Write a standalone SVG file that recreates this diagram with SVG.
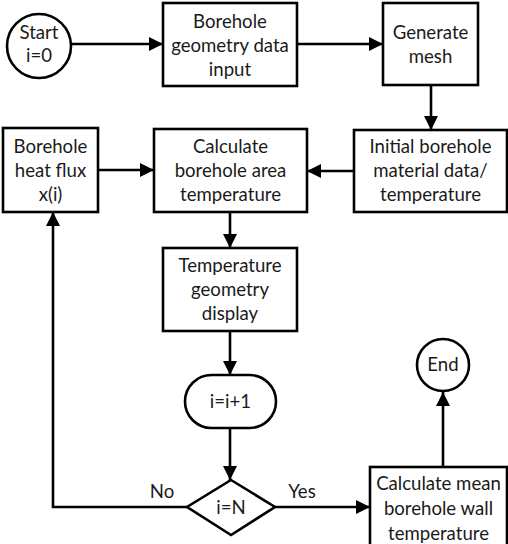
<svg xmlns="http://www.w3.org/2000/svg" width="508" height="544" viewBox="0 0 508 544">
<style>
.n{fill:#fff;stroke:#000;stroke-width:2.6}
.t{font-family:Lato,"Liberation Sans",sans-serif;font-size:18.6px;fill:#1a1a1a;text-anchor:middle}
.c{fill:none;stroke:#000;stroke-width:2.6}
</style>
<defs>
<marker id="a" markerUnits="userSpaceOnUse" markerWidth="16" markerHeight="16" refX="14" refY="7" orient="auto">
<path d="M0,0 L14,7 L0,14 z" fill="#000"/>
</marker>
</defs>
<rect width="508" height="544" fill="#fff"/>
<g id="connectors">
<line class="c" x1="71" y1="44" x2="163" y2="44" marker-end="url(#a)"/>
<line class="c" x1="297" y1="44" x2="383" y2="44" marker-end="url(#a)"/>
<line class="c" x1="431" y1="85" x2="431" y2="130" marker-end="url(#a)"/>
<line class="c" x1="354" y1="171" x2="307" y2="171" marker-end="url(#a)"/>
<line class="c" x1="98" y1="170" x2="154" y2="170" marker-end="url(#a)"/>
<line class="c" x1="230" y1="212" x2="230" y2="248" marker-end="url(#a)"/>
<line class="c" x1="230" y1="331" x2="230" y2="375" marker-end="url(#a)"/>
<line class="c" x1="230" y1="428" x2="230" y2="480" marker-end="url(#a)"/>
<polyline class="c" points="187,507 53,507 53,212" marker-end="url(#a)"/>
<line class="c" x1="275" y1="507" x2="370" y2="507" marker-end="url(#a)"/>
<line class="c" x1="443" y1="467" x2="443" y2="392" marker-end="url(#a)"/>
<text class="t" x="162" y="498">No</text>
<text class="t" x="302" y="498">Yes</text>
</g>
<g id="start">
<circle class="n" cx="39" cy="46" r="32"/>
<text class="t" x="39" y="39">Start</text>
<text class="t" x="39" y="62">i=0</text>
</g>
<g id="geometry-input">
<rect class="n" x="163" y="3" width="134" height="83"/>
<text class="t" x="230" y="28">Borehole</text>
<text class="t" x="230" y="52">geometry data</text>
<text class="t" x="230" y="76">input</text>
</g>
<g id="generate-mesh">
<rect class="n" x="383" y="3" width="95" height="82"/>
<text class="t" x="430.5" y="39">Generate</text>
<text class="t" x="430.5" y="63">mesh</text>
</g>
<g id="initial-data">
<rect class="n" x="354" y="130" width="153" height="82"/>
<text class="t" x="430.5" y="153">Initial borehole</text>
<text class="t" x="430.5" y="177">material data/</text>
<text class="t" x="430.5" y="201">temperature</text>
</g>
<g id="calc-area">
<rect class="n" x="154" y="129" width="153" height="83"/>
<text class="t" x="230.5" y="153">Calculate</text>
<text class="t" x="230.5" y="177">borehole area</text>
<text class="t" x="230.5" y="201">temperature</text>
</g>
<g id="heat-flux">
<rect class="n" x="3" y="128" width="95" height="84"/>
<text class="t" x="50.5" y="153">Borehole</text>
<text class="t" x="50.5" y="177">heat flux</text>
<text class="t" x="50.5" y="201">x(i)</text>
</g>
<g id="temp-display">
<rect class="n" x="163" y="248" width="134" height="83"/>
<text class="t" x="230" y="272">Temperature</text>
<text class="t" x="230" y="296">geometry</text>
<text class="t" x="230" y="320">display</text>
</g>
<g id="increment">
<rect class="n" x="185" y="375" width="91" height="53" rx="26.5"/>
<text class="t" x="230.5" y="408">i=i+1</text>
</g>
<g id="decision">
<polygon class="n" points="231,480 275,507 231,535 187,507"/>
<text class="t" x="231" y="514">i=N</text>
</g>
<g id="calc-mean">
<rect class="n" x="370" y="467" width="137" height="85"/>
<text class="t" x="438.5" y="490">Calculate mean</text>
<text class="t" x="438.5" y="515">borehole wall</text>
<text class="t" x="438.5" y="540">temperature</text>
</g>
<g id="end">
<circle class="n" cx="443" cy="365" r="26"/>
<text class="t" x="443" y="371">End</text>
</g>
</svg>
